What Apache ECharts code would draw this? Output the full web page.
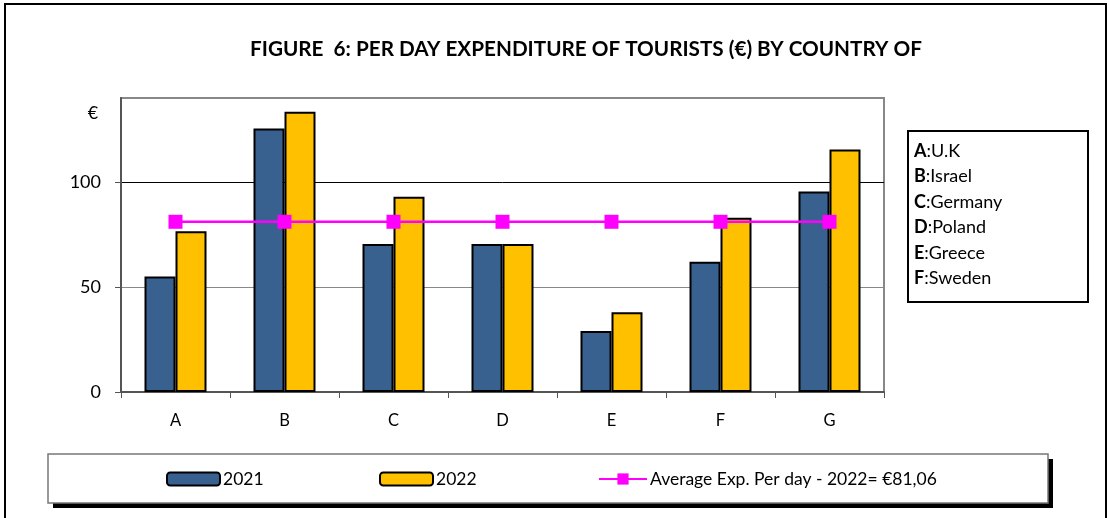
<!DOCTYPE html>
<html>
<head>
<meta charset="utf-8">
<script src="https://cdn.jsdelivr.net/npm/echarts@6/dist/echarts.min.js"></script>
<style>
html,body{margin:0;padding:0;background:#fff;}
#chart{width:1110px;height:518px;}
</style>
</head>
<body>
<div id="chart"></div>
<script>
const titleText = 'FIGURE  6: PER DAY EXPENDITURE OF TOURISTS (€) BY COUNTRY OF';
const categories = ['A', 'B', 'C', 'D', 'E', 'F', 'G'];
const values2021 = [55, 125.5, 70.5, 70.5, 29, 62, 95.5];
const values2022 = [76.5, 133.5, 93, 70.5, 38, 83, 115.5];
const averageValue = 81.06;
const averageLine = categories.map(() => averageValue);
const seriesNames = ['2021', '2022', 'Average Exp. Per day - 2022= €81,06'];
const yTicks = [0, 50, 100];
const countryKeys = ['A', 'B', 'C', 'D', 'E', 'F'];
const countryNames = ['U.K', 'Israel', 'Germany', 'Poland', 'Greece', 'Sweden'];
const yAxisName = '€';

const FONT = 'Lato';
const chart = echarts.init(document.getElementById('chart'), null, {renderer: 'canvas'});

const countryText = countryKeys.map((k, i) => '{b|' + k + '}{n|:' + countryNames[i] + '}').join('\n');

const legendText = {fontFamily: FONT, fontSize: 17.5, color: '#000', padding: [0, 0, 0, -2]};

const option = {
  backgroundColor: '#fff',
  animation: false,
  title: {
    text: titleText,
    left: 581, textAlign: 'center',
    top: 34,
    textStyle: {fontFamily: FONT, fontWeight: 'bold', fontSize: 20.7, color: '#000'}
  },
  grid: {
    left: 121, right: 226, top: 98, bottom: 126,
    show: true, borderColor: '#888', borderWidth: 2, backgroundColor: 'transparent'
  },
  legend: [
    {data: [seriesNames[0]], left: 166, top: 470, itemWidth: 53, itemHeight: 13, itemGap: 0, textStyle: legendText, padding: 0},
    {data: [seriesNames[1]], left: 379, top: 470, itemWidth: 53, itemHeight: 13, itemGap: 0, textStyle: legendText, padding: 0},
    {data: [seriesNames[2]], left: 598, top: 470, itemWidth: 48, itemHeight: 14, itemGap: 0, textStyle: legendText, padding: 0}
  ],
  xAxis: {
    type: 'category',
    data: categories,
    axisLine: {lineStyle: {color: '#555', width: 2}},
    axisTick: {show: true, length: 6, lineStyle: {color: '#555', width: 1}},
    axisLabel: {fontFamily: FONT, fontSize: 16.5, color: '#000', margin: 20},
    splitLine: {show: false}
  },
  yAxis: {
    type: 'value',
    min: 0, max: 140, interval: 50,
    axisLine: {show: true, lineStyle: {color: '#555', width: 2}},
    axisTick: {show: true, length: 6, customValues: yTicks, lineStyle: {color: '#555'}},
    axisLabel: {
      fontFamily: FONT, fontSize: 18, color: '#000', margin: 20,
      customValues: yTicks,
      formatter: v => String(v)
    },
    splitLine: {show: true, lineStyle: {color: ['#888', '#888', '#000', '#888'], width: 1}}
  },
  series: [
    {
      name: seriesNames[0], type: 'bar', data: values2021,
      barWidth: 31, barGap: '0%',
      itemStyle: {color: '#386190', borderColor: '#000', borderWidth: 2}
    },
    {
      name: seriesNames[1], type: 'bar', data: values2022,
      barWidth: 31, barGap: '0%',
      itemStyle: {color: '#FFC000', borderColor: '#000', borderWidth: 2}
    },
    {
      name: seriesNames[2], type: 'line', data: averageLine,
      symbol: 'rect', symbolSize: 14, showSymbol: true,
      lineStyle: {color: '#FF00FF', width: 2.5},
      itemStyle: {color: '#FF00FF'},
      z: 5
    }
  ],
  graphic: [
    {type: 'rect', shape: {x: 5, y: 4, width: 1101, height: 530}, style: {fill: 'none', stroke: '#000', lineWidth: 2}, z: -10, silent: true},
    {type: 'rect', shape: {x: 53, y: 459, width: 1000, height: 49}, style: {fill: '#000'}, z: -5, silent: true},
    {type: 'rect', shape: {x: 48, y: 454, width: 1000, height: 49}, style: {fill: '#fff', stroke: '#777', lineWidth: 1.5}, z: -4, silent: true},
    {type: 'rect', shape: {x: 908, y: 131, width: 180, height: 171}, style: {fill: '#fff', stroke: '#000', lineWidth: 2}, z: 1, silent: true},
    {
      type: 'text', x: 914, y: 138, z: 2, silent: true,
      style: {
        text: countryText,
        fontFamily: FONT, fontSize: 18, fill: '#000',
        lineHeight: 25.5,
        rich: {
          b: {fontFamily: FONT, fontSize: 18, fontWeight: 'bold', lineHeight: 25.5},
          n: {fontFamily: FONT, fontSize: 18, lineHeight: 25.5}
        }
      }
    },
    {type: 'text', x: 93, y: 113, z: 2, silent: true,
     style: {text: yAxisName, fontFamily: FONT, fontSize: 18, fill: '#000', align: 'center', verticalAlign: 'middle'}}
  ]
};
chart.setOption(option);
</script>
</body>
</html>
